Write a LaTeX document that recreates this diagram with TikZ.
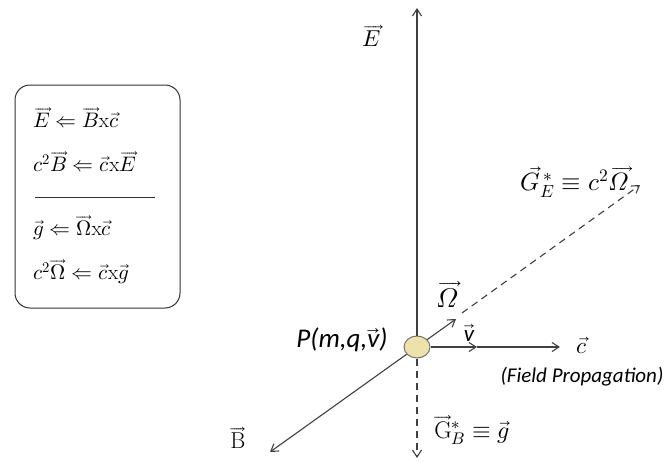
\documentclass[tikz,border=0pt]{standalone}
\usepackage{unicode-math}
\setmathfont{Latin Modern Math}
\newfontfamily\carl{Carlito}
\usetikzlibrary{arrows.meta,shapes.geometric}
\begin{document}
\begin{tikzpicture}[x=1pt,y=-1pt,
  ax/.style={draw=black!75, line width=1.1pt, -{Straight Barb[length=7pt,width=9pt]}},
  axd/.style={ax, dash pattern=on 7pt off 5pt},
  lbl/.style={inner sep=0pt, font=\fontsize{23}{27}\selectfont},
  eq/.style={anchor=west, inner sep=0pt, font=\fontsize{21}{25}\selectfont},
  sans/.style={inner sep=0pt, font=\carl\itshape\fontsize{27}{32}\selectfont}
]
\useasboundingbox (0,0) rectangle (670,463);
% formula box
\node[draw=black!80, line width=1pt, rounded corners=15pt, minimum width=165, minimum height=223, inner sep=0pt] (box) at (97.5,196.5) {};
\node[eq] (e1) at (33,118) {$\overrightarrow{E}\Leftarrow\overrightarrow{B}\mathrm{x}\vec{c}$};
\node[eq] (e2) at (33,162) {$c^2\overrightarrow{B}\Leftarrow\vec{c}\mathrm{x}\overrightarrow{E}$};
\coordinate (s1) at (35,197);
\coordinate (s2) at (155,197);
\draw[black!80, line width=0.9pt] (s1) -- (s2);
\node[eq] (e3) at (33,228) {$\vec{g}\Leftarrow\overrightarrow{\Omega}\mathrm{x}\vec{c}$};
\node[eq] (e4) at (33,272) {$c^2\overrightarrow{\Omega}\Leftarrow\vec{c}\mathrm{x}\overrightarrow{g}$};
% particle
\node[ellipse, draw=black!55, line width=1pt, fill={rgb,255:red,238;green,226;blue,172}, minimum width=26, minimum height=22, inner sep=0pt] (P) at (417,347) {};
\coordinate (Et) at (417,8);
\coordinate (Gb) at (417,458);
\coordinate (vt) at (477,347);
\coordinate (ct) at (560,347);
\coordinate (Bt) at (270,452);
\coordinate (Ot) at (456,319);
\coordinate (Os) at (462,313);
\coordinate (Gt) at (640,185);
\draw[ax] (P.north) -- (Et);
\draw[axd] (P.south) -- (Gb);
\draw[ax] (P.east) -- (vt);
\draw[ax] (vt) -- (ct);
\draw[ax] (P.215) -- (Bt);
\draw[ax] (P.36) -- (Ot);
\draw[axd] (Os) -- (Gt);
% labels
\node[lbl] (lE) at (372,36) {$\overrightarrow{E}$};
\node[lbl, font=\fontsize{25}{30}\selectfont] (lGE) at (575,182) {$\vec{G}^{\,*}_{E}\equiv c^2\overrightarrow{\symit{\Omega}}$};
\node[lbl, font=\fontsize{27}{32}\selectfont] (lO) at (447,294) {$\overrightarrow{\symit{\Omega}}$};
\node[lbl] (lv) at (469,333) {$\overrightarrow{\hbox{\carl\itshape v}}$};
\node[lbl] (lc) at (582,345) {$\vec{c}$};
\node[inner sep=0pt, font=\carl\itshape\fontsize{21}{25}\selectfont] (lF) at (582,377) {(Field Propagation)};
\node[sans] (lP) at (342,340) {P(m,q,$\overrightarrow{\hbox{\carl\itshape v}}$)};
\node[lbl] (lB) at (238,438) {$\overrightarrow{\mathrm{B}}$};
\node[lbl, font=\fontsize{24}{29}\selectfont] (lGB) at (472,430) {$\overrightarrow{\mathrm{G}}^{*}_{B}\equiv\overrightarrow{g}$};
\end{tikzpicture}
\end{document}
